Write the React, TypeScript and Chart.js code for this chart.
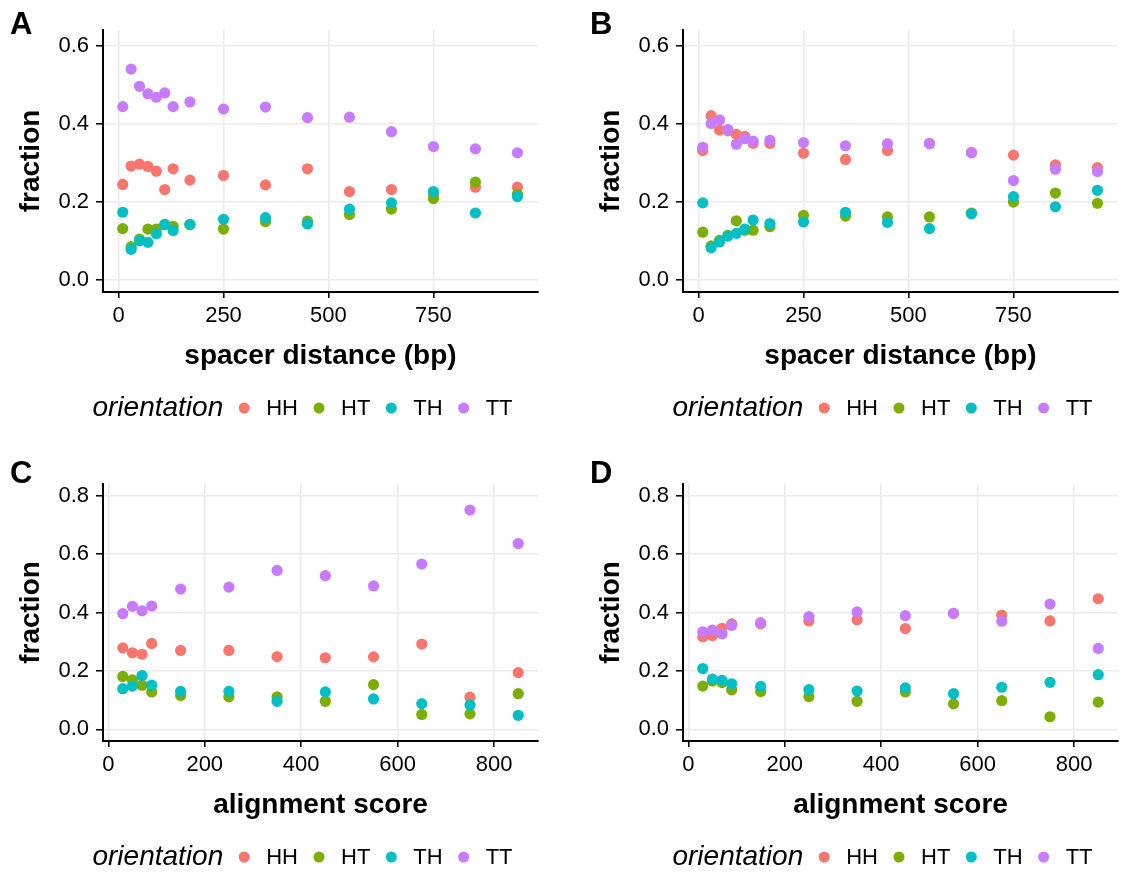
import React, { useEffect, useRef } from "react";
import { Chart, registerables } from "chart.js";

Chart.register(...registerables);

// ---------- data ----------
const orientations = ["HH", "HT", "TH", "TT"];
const orientationColors = ["#F8766D", "#7CAE00", "#00BFC4", "#C77CFF"];

const spacerDistance = [10, 30, 50, 70, 90, 110, 130, 170, 250, 350, 450, 550, 650, 750, 850, 950];
const spacerTicks = [0, 250, 500, 750];
const fractionTicksTop = [0, 0.2, 0.4, 0.6];

const aHH = [0.245, 0.292, 0.297, 0.291, 0.279, 0.232, 0.285, 0.256, 0.268, 0.244, 0.285, 0.227, 0.232, 0.218, 0.238, 0.238];
const aHT = [0.132, 0.086, 0.105, 0.131, 0.131, 0.142, 0.138, 0.142, 0.131, 0.150, 0.151, 0.168, 0.182, 0.209, 0.251, 0.220];
const aTH = [0.174, 0.079, 0.101, 0.097, 0.119, 0.143, 0.127, 0.143, 0.156, 0.160, 0.144, 0.182, 0.198, 0.227, 0.172, 0.214];
const aTT = [0.444, 0.540, 0.496, 0.477, 0.468, 0.479, 0.444, 0.456, 0.438, 0.443, 0.416, 0.417, 0.380, 0.342, 0.336, 0.326];

const bHH = [0.332, 0.421, 0.384, 0.382, 0.373, 0.368, 0.350, 0.350, 0.325, 0.309, 0.332, 0.350, 0.327, 0.320, 0.295, 0.288];
const bHT = [0.123, 0.088, 0.102, 0.115, 0.152, 0.128, 0.128, 0.137, 0.166, 0.164, 0.162, 0.162, 0.172, 0.200, 0.223, 0.197];
const bTH = [0.198, 0.083, 0.098, 0.113, 0.120, 0.131, 0.154, 0.145, 0.149, 0.174, 0.148, 0.132, 0.170, 0.214, 0.188, 0.230];
const bTT = [0.340, 0.401, 0.410, 0.385, 0.348, 0.362, 0.356, 0.358, 0.352, 0.344, 0.349, 0.349, 0.326, 0.255, 0.284, 0.278];

const alignmentScore = [30, 50, 70, 90, 150, 250, 350, 450, 550, 650, 750, 850];
const alignmentTicks = [0, 200, 400, 600, 800];
const fractionTicksBottom = [0, 0.2, 0.4, 0.6, 0.8];

const cHH = [0.279, 0.262, 0.257, 0.294, 0.270, 0.270, 0.249, 0.245, 0.248, 0.292, 0.110, 0.194];
const cHT = [0.181, 0.169, 0.151, 0.128, 0.116, 0.111, 0.111, 0.096, 0.153, 0.051, 0.053, 0.122];
const cTH = [0.139, 0.148, 0.184, 0.151, 0.130, 0.130, 0.096, 0.128, 0.104, 0.088, 0.083, 0.048];
const cTT = [0.396, 0.421, 0.406, 0.422, 0.480, 0.487, 0.544, 0.526, 0.491, 0.566, 0.751, 0.636];

const dHH = [0.317, 0.321, 0.346, 0.361, 0.361, 0.371, 0.375, 0.345, 0.397, 0.391, 0.371, 0.447];
const dHT = [0.148, 0.165, 0.160, 0.135, 0.129, 0.112, 0.096, 0.128, 0.087, 0.098, 0.043, 0.093];
const dTH = [0.208, 0.172, 0.168, 0.156, 0.147, 0.136, 0.131, 0.142, 0.122, 0.144, 0.161, 0.187];
const dTT = [0.334, 0.340, 0.327, 0.356, 0.365, 0.386, 0.402, 0.389, 0.397, 0.370, 0.429, 0.277];

const FONT = '"Liberation Sans", Arial, Helvetica, sans-serif';

type PanelProps = {
  letter: string;
  letterBaseline: number;
  xTitle: string;
  xValues: number[];
  series: number[][];
  xMin: number;
  xMax: number;
  xTicks: number[];
  yMin: number;
  yMax: number;
  yTicks: number[];
  left: number;
  top: number;
  width: number;
  height: number;
  chartTop: number;
  chartBottom: number;
};

function Panel(p: PanelProps) {
  const ref = useRef<HTMLCanvasElement | null>(null);
  useEffect(() => {
    if (!ref.current) return;
    const chartLeft = 103;
    const chartRight = 538;
    const overlay = {
      id: "overlay",
      afterDraw(chart: any) {
        const ctx = chart.ctx;
        ctx.save();
        ctx.fillStyle = "#000";
        ctx.font = `bold 31px ${FONT}`;
        ctx.textBaseline = "alphabetic";
        ctx.textAlign = "left";
        ctx.fillText(p.letter, 10, p.letterBaseline);
        // legend
        const ly = p.chartBottom + 116;
        ctx.textBaseline = "middle";
        ctx.font = `italic 28px ${FONT}`;
        const titleW = ctx.measureText("orientation").width;
        ctx.font = `22px ${FONT}`;
        const labelW = orientations.map((o) => ctx.measureText(o).width);
        const total = titleW + orientations.length * 43 + labelW.reduce((a, b) => a + b, 0);
        const center = (chartLeft + chartRight) / 2 - 18;
        let x = center - total / 2;
        ctx.font = `italic 28px ${FONT}`;
        ctx.fillText("orientation", x, ly);
        x += titleW;
        orientations.forEach((o, i) => {
          x += 21;
          ctx.beginPath();
          ctx.fillStyle = orientationColors[i];
          ctx.arc(x, ly, 5.5, 0, Math.PI * 2);
          ctx.fill();
          x += 22;
          ctx.fillStyle = "#000";
          ctx.font = `22px ${FONT}`;
          ctx.fillText(o, x, ly + 1);
          x += labelW[i];
        });
        ctx.restore();
      },
    };
    const xAxisHeight = p.height - p.chartBottom;
    const chart = new Chart(ref.current, {
      type: "scatter",
      data: {
        datasets: p.series.map((s, i) => ({
          label: orientations[i],
          data: p.xValues.map((x, j) => ({ x, y: s[j] })),
          backgroundColor: orientationColors[i],
          borderWidth: 0,
          pointRadius: 5.6,
          pointHoverRadius: 5.6,
          order: orientations.length - i,
        })),
      },
      options: {
        responsive: false,
        animation: false,
        events: [],
        layout: { padding: { left: 0, right: p.width - chartRight, top: p.chartTop, bottom: 0 } },
        plugins: { legend: { display: false }, tooltip: { enabled: false } },
        scales: {
          x: {
            type: "linear",
            min: p.xMin,
            max: p.xMax,
            afterBuildTicks: (s: any) => {
              s.ticks = p.xTicks.map((v) => ({ value: v }));
            },
            afterFit: (s: any) => {
              s.height = xAxisHeight;
            },
            ticks: {
              color: "#000",
              font: { family: FONT, size: 22 },
              padding: 5,
              maxRotation: 0,
              autoSkip: false,
              callback: (v: any) => String(v),
            },
            grid: { color: "#ebebeb", lineWidth: 1.6, tickColor: "#000", tickLength: 6, tickWidth: 1.5 },
            border: { color: "#000", width: 2 },
            title: {
              display: true,
              text: p.xTitle,
              color: "#000",
              font: { family: FONT, size: 28, weight: "bold" },
              padding: { top: 0, bottom: xAxisHeight - 64 - 16.8 },
            },
          },
          y: {
            type: "linear",
            min: p.yMin,
            max: p.yMax,
            afterBuildTicks: (s: any) => {
              s.ticks = p.yTicks.map((v) => ({ value: v }));
            },
            afterFit: (s: any) => {
              s.width = chartLeft;
            },
            ticks: {
              color: "#000",
              font: { family: FONT, size: 22 },
              padding: 7,
              autoSkip: false,
              callback: (v: any) => Number(v).toFixed(1),
            },
            grid: { color: "#ebebeb", lineWidth: 1.6, tickColor: "#000", tickLength: 7, tickWidth: 1.5 },
            border: { color: "#000", width: 2 },
            title: {
              display: true,
              text: "fraction",
              color: "#000",
              font: { family: FONT, size: 28, weight: "bold" },
              padding: { top: 14, bottom: 0 },
            },
          },
        },
      },
      plugins: [overlay],
    } as any);
    return () => chart.destroy();
  }, []);
  return (
    <canvas
      ref={ref}
      width={p.width}
      height={p.height}
      style={{ position: "absolute", left: p.left, top: p.top, width: p.width, height: p.height }}
    />
  );
}

export default function App() {
  return (
    <div style={{ position: "absolute", left: 0, top: 0, width: 1128, height: 875, background: "#fff" }}>
      <Panel letter="A" letterBaseline={34} xTitle="spacer distance (bp)" xValues={spacerDistance} series={[aHH, aHT, aTH, aTT]}
        xMin={-37} xMax={999} xTicks={spacerTicks} yMin={-0.03} yMax={0.64} yTicks={fractionTicksTop}
        left={0} top={0} width={548} height={437} chartTop={30} chartBottom={292} />
      <Panel letter="B" letterBaseline={34} xTitle="spacer distance (bp)" xValues={spacerDistance} series={[bHH, bHT, bTH, bTT]}
        xMin={-37} xMax={999} xTicks={spacerTicks} yMin={-0.03} yMax={0.64} yTicks={fractionTicksTop}
        left={580} top={0} width={548} height={437} chartTop={30} chartBottom={292} />
      <Panel letter="C" letterBaseline={46} xTitle="alignment score" xValues={alignmentScore} series={[cHH, cHT, cTH, cTT]}
        xMin={-11} xMax={891} xTicks={alignmentTicks} yMin={-0.04} yMax={0.84} yTicks={fractionTicksBottom}
        left={0} top={437} width={548} height={438} chartTop={47} chartBottom={304} />
      <Panel letter="D" letterBaseline={46} xTitle="alignment score" xValues={alignmentScore} series={[dHH, dHT, dTH, dTT]}
        xMin={-11} xMax={891} xTicks={alignmentTicks} yMin={-0.04} yMax={0.84} yTicks={fractionTicksBottom}
        left={580} top={437} width={548} height={438} chartTop={47} chartBottom={304} />
    </div>
  );
}
